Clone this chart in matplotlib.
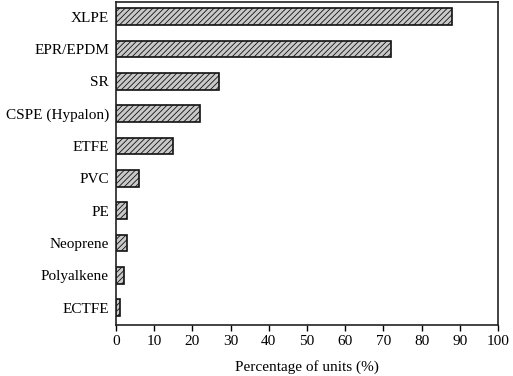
import matplotlib
matplotlib.use("Agg")
import matplotlib.pyplot as plt

categories = ["XLPE", "EPR/EPDM", "SR", "CSPE (Hypalon)", "ETFE", "PVC", "PE",
              "Neoprene", "Polyalkene", "ECTFE"]
values = [88, 72, 27, 22, 15, 6, 3, 3, 2, 1]
xticks = list(range(0, 101, 10))

plt.rcParams['font.family'] = ['Liberation Serif', 'DejaVu Serif']
plt.rcParams['hatch.color'] = '#555555'
plt.rcParams['hatch.linewidth'] = 0.6

fig = plt.figure(figsize=(5.13, 3.76), dpi=100)
ax = fig.add_axes([0.226, 0.136, 0.745, 0.859])

n = len(categories)
pos = list(range(n - 1, -1, -1))
ax.barh(pos, values, height=0.52, color='#c9c9c9', edgecolor='#111111',
        linewidth=1.2, hatch='//////')
ax.set_yticks(pos)
ax.set_yticklabels(categories, fontsize=11)
ax.tick_params(axis='y', length=0, pad=5)
ax.set_xticks(xticks)
ax.set_xticklabels([str(t) for t in xticks], fontsize=11)
ax.tick_params(axis='x', direction='out', length=4, width=1, pad=3)
ax.set_xlim(0, 100)
ax.set_ylim(-0.53, n - 1 + 0.46)
ax.set_xlabel("Percentage of units (%)", fontsize=11, labelpad=9)
for s in ax.spines.values():
    s.set_linewidth(1.2)
    s.set_color('#222222')

fig.savefig("out.png", dpi=100)
